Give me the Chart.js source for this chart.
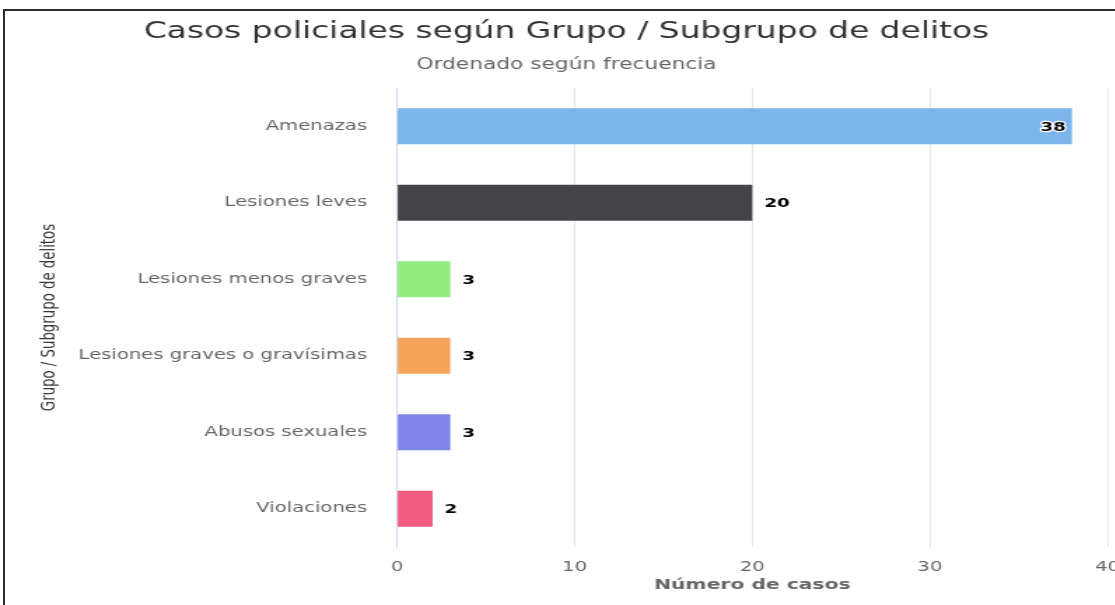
<!DOCTYPE html>
<html>
<head>
<meta charset="utf-8">
<script src="https://cdn.jsdelivr.net/npm/chart.js@4.4.1/dist/chart.umd.min.js"></script>
<style>
  html, body { margin: 0; padding: 0; background: #fff; overflow: hidden; width: 1115px; height: 605px; }
  #frame { position: absolute; left: 3px; top: 9px; width: 2000px; height: 2000px;
           border-top: 2px solid #2b2b2b; border-left: 2px solid #2b2b2b; pointer-events: none; }
  #casos { position: absolute; left: 0; top: 0; transform: scaleX(1.4); transform-origin: 0 0; }
</style>
</head>
<body>
<div id="frame"></div>
<canvas id="casos" width="812" height="605"></canvas>
<script>
  const categorias = ['Amenazas', 'Lesiones leves', 'Lesiones menos graves',
    'Lesiones graves o gravísimas', 'Abusos sexuales', 'Violaciones'];
  const casos = [38, 20, 3, 3, 3, 2];
  const colores = ['#7cb5ec', '#434348', '#90ed7d', '#f7a35c', '#8085e9', '#f15c80'];
  const xMin = 0;
  const xMax = 40;
  const xPaso = 10;

  const fuente = "'DejaVu Sans', Verdana, sans-serif";

  // etiquetas de valor al final de cada barra
  const etiquetas = {
    id: 'etiquetas',
    afterDatasetsDraw(chart) {
      const ctx = chart.ctx;
      const area = chart.chartArea;
      const meta = chart.getDatasetMeta(0);
      ctx.save();
      ctx.font = 'bold 13px ' + fuente;
      ctx.textBaseline = 'middle';
      ctx.lineJoin = 'round';
      ctx.lineWidth = 2.5;
      ctx.strokeStyle = '#fff';
      ctx.fillStyle = '#000';
      meta.data.forEach((bar, i) => {
        const txt = String(chart.data.datasets[0].data[i]);
        const w = ctx.measureText(txt).width;
        let x;
        if (bar.x + 8.6 + w > area.right) {
          ctx.textAlign = 'right';
          x = bar.x - 4.3;
        } else {
          ctx.textAlign = 'left';
          x = bar.x + 8.6;
        }
        ctx.strokeText(txt, x, bar.y + 1);
        ctx.fillText(txt, x, bar.y + 1);
      });
      ctx.restore();
    }
  };

  new Chart(document.getElementById('casos'), {
    type: 'bar',
    data: {
      labels: categorias,
      datasets: [{
        label: 'Número de casos',
        data: casos,
        backgroundColor: colores,
        borderWidth: 0,
        categoryPercentage: 1,
        barPercentage: 0.47
      }]
    },
    options: {
      indexAxis: 'y',
      responsive: false,
      animation: false,
      devicePixelRatio: 1,
      layout: { padding: { left: 15.6, right: 18.3, top: 0, bottom: 0 } },
      plugins: {
        legend: { display: false },
        tooltip: { enabled: false },
        title: {
          display: true,
          text: 'Casos policiales según Grupo / Subgrupo de delitos',
          color: '#333',
          font: { family: fuente, size: 23.5, weight: 'normal' },
          padding: { top: 17.5, bottom: 0 }
        },
        subtitle: {
          display: true,
          text: 'Ordenado según frecuencia',
          color: '#666',
          font: { family: fuente, size: 15.5, weight: 'normal' },
          padding: { top: 9.9, bottom: 13.8 }
        }
      },
      scales: {
        x: {
          min: xMin,
          max: xMax,
          ticks: { stepSize: xPaso, color: '#666', padding: 12,
                   font: { family: fuente, size: 14 } },
          grid: { color: '#e6e6e6', drawTicks: false },
          border: { display: false },
          title: {
            display: true,
            text: 'Número de casos',
            color: '#666',
            font: { family: fuente, size: 14.5, weight: 'bold' },
            padding: { top: 0, bottom: 11.3 }
          },
          afterFit(s) { s.height = 58; }
        },
        y: {
          ticks: { color: '#666', padding: 21.4,
                   font: { family: fuente, size: 14 } },
          grid: { display: false, drawTicks: false },
          border: { display: true, color: '#ccd6eb', width: 1 },
          title: {
            display: true,
            text: 'Grupo / Subgrupo de delitos',
            color: '#3a3a3a',
            font: { family: fuente, size: 13.3, weight: 'normal' },
            padding: { top: 12, bottom: 0 }
          },
          afterFit(s) { s.width = 268; }
        }
      }
    },
    plugins: [etiquetas]
  });
</script>
</body>
</html>
